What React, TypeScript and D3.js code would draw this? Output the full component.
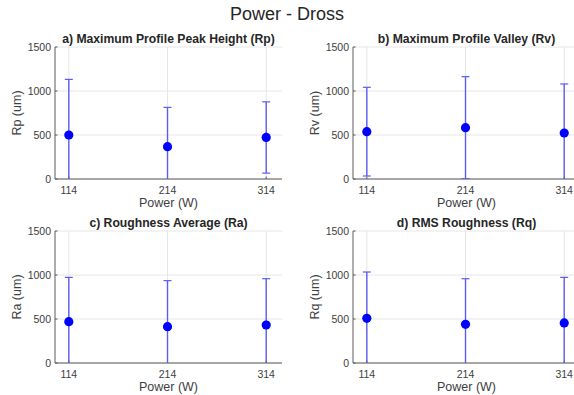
import React from "react";
import * as d3 from "d3";

const powers = [114, 214, 314];
const xTickLabels = ["114", "214", "314"];
const yTicks = [0, 500, 1000, 1500];

const rpMean = [500, 367, 472];
const rpErr = [632, 447, 405];
const rvMean = [538, 583, 523];
const rvErr = [504, 580, 557];
const raMean = [470, 413, 432];
const raErr = [503, 523, 526];
const rqMean = [508, 440, 455];
const rqErr = [526, 518, 518];

const panels = [
  { title: "a) Maximum Profile Peak Height (Rp)", ylab: "Rp (um)", mean: rpMean, err: rpErr, x0: 55, y0: 47 },
  { title: "b) Maximum Profile Valley (Rv)", ylab: "Rv (um)", mean: rvMean, err: rvErr, x0: 353, y0: 47 },
  { title: "c) Roughness Average (Ra)", ylab: "Ra (um)", mean: raMean, err: raErr, x0: 55, y0: 231 },
  { title: "d) RMS Roughness (Rq)", ylab: "Rq (um)", mean: rqMean, err: rqErr, x0: 353, y0: 231 },
];

const W = 227;
const H = 132;
const FONT = "'Liberation Sans', Arial, Helvetica, sans-serif";
const EB = "#5c5cf2";

function Panel({ p, idx }: { p: any; idx: number }) {
  const x = d3.scaleLinear().domain([100, 330]).range([0, W]);
  const y = d3.scaleLinear().domain([0, 1500]).range([H, 0]);
  const clipId = `clip${idx}`;
  return (
    <g transform={`translate(${p.x0},${p.y0})`}>
      <defs>
        <clipPath id={clipId}>
          <rect x={-6} y={-6} width={W + 12} height={H + 6} />
        </clipPath>
      </defs>
      {yTicks.map((t) => (
        <line key={"gy" + t} x1={0} x2={W} y1={y(t)} y2={y(t)} stroke="#e6e6e6" strokeWidth={1} />
      ))}
      {powers.map((t) => (
        <line key={"gx" + t} x1={x(t)} x2={x(t)} y1={0} y2={H} stroke="#e6e6e6" strokeWidth={1} />
      ))}
      <line x1={0} x2={0} y1={0} y2={H} stroke="#5a5a5a" strokeWidth={1} />
      <line x1={0} x2={W} y1={H} y2={H} stroke="#5a5a5a" strokeWidth={1} />
      {yTicks.map((t) => (
        <g key={"ty" + t}>
          <line x1={0} x2={2.5} y1={y(t)} y2={y(t)} stroke="#5a5a5a" />
          <text x={-4} y={y(t) + 3.5} textAnchor="end" fontSize={10.5} fill="#404040" fontFamily={FONT}>
            {t}
          </text>
        </g>
      ))}
      {powers.map((t, i) => (
        <g key={"tx" + t}>
          <line x1={x(t)} x2={x(t)} y1={H} y2={H - 2.5} stroke="#5a5a5a" />
          <text x={x(t)} y={H + 15} textAnchor="middle" fontSize={10.5} fill="#404040" fontFamily={FONT}>
            {xTickLabels[i]}
          </text>
        </g>
      ))}
      <g clipPath={`url(#${clipId})`}>
        {powers.map((t, i) => {
          const lo = p.mean[i] - p.err[i];
          const hi = p.mean[i] + p.err[i];
          return (
            <g key={"e" + t}>
              <line x1={x(t)} x2={x(t)} y1={y(lo)} y2={y(hi)} stroke={EB} strokeWidth={1.4} />
              <line x1={x(t) - 4} x2={x(t) + 4} y1={y(hi)} y2={y(hi)} stroke={EB} strokeWidth={1.2} />
              <line x1={x(t) - 4} x2={x(t) + 4} y1={y(lo)} y2={y(lo)} stroke={EB} strokeWidth={1.2} />
            </g>
          );
        })}
      </g>
      {powers.map((t, i) => (
        <circle key={"m" + t} cx={x(t)} cy={y(p.mean[i])} r={4.6} fill="#0000ff" />
      ))}
      <text x={W / 2} y={-4} textAnchor="middle" fontSize={12.2} fontWeight="bold" fill="#262626" fontFamily={FONT}>
        {p.title}
      </text>
      <text x={W / 2} y={H + 28} textAnchor="middle" fontSize={12.5} fill="#404040" fontFamily={FONT}>
        Power (W)
      </text>
      <text
        transform={`translate(${-34},${H / 2}) rotate(-90)`}
        textAnchor="middle"
        fontSize={12.5}
        fill="#404040"
        fontFamily={FONT}
      >
        {p.ylab}
      </text>
    </g>
  );
}

export default function App() {
  return (
    <svg width={574} height={395} style={{ position: "absolute", left: 0, top: 0, background: "#fff" }}>
      <rect x={0} y={0} width={574} height={395} fill="#fff" />
      <text x={287} y={20} textAnchor="middle" fontSize={18} fill="#262626" fontFamily={FONT}>
        Power - Dross
      </text>
      {panels.map((p, i) => (
        <Panel key={i} p={p} idx={i} />
      ))}
    </svg>
  );
}
